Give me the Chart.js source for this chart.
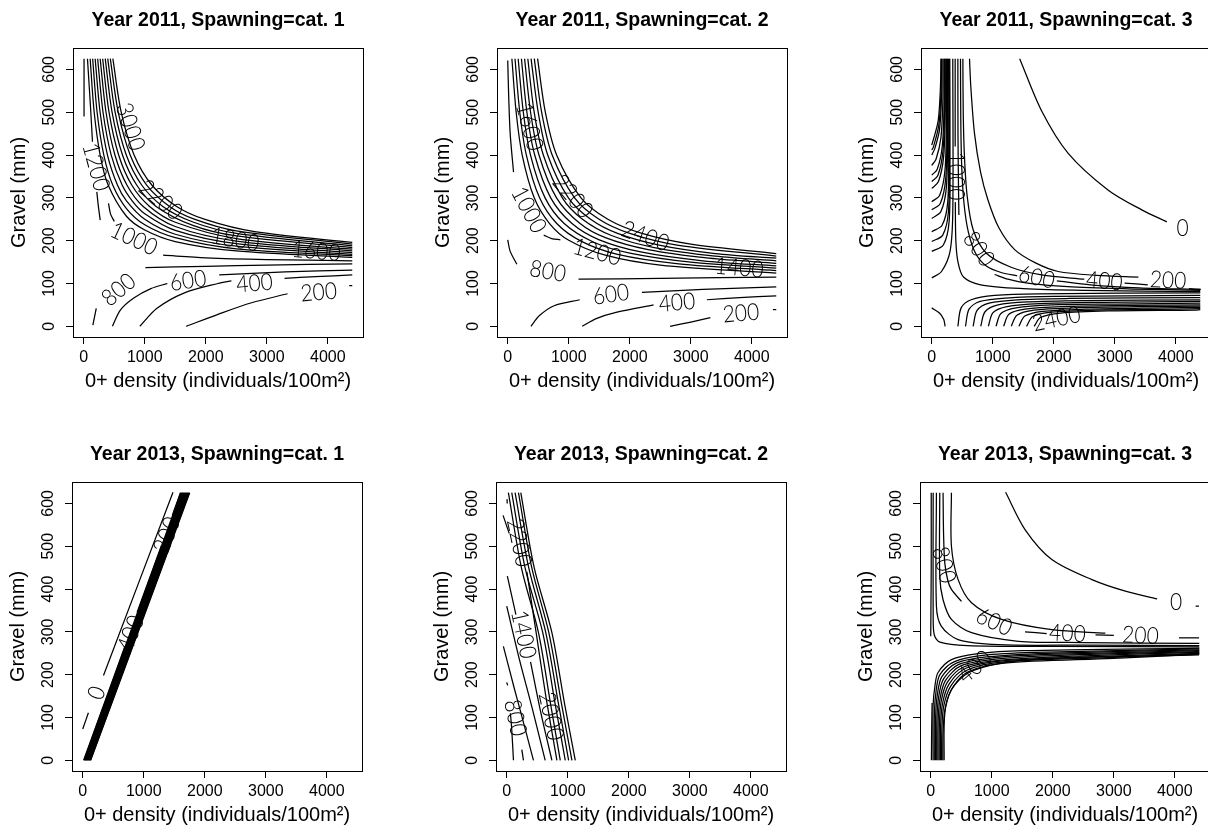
<!DOCTYPE html>
<html>
<head>
<meta charset="utf-8">
<title>Contour plots</title>
<script src="https://cdn.jsdelivr.net/npm/chart.js@4.4.1/dist/chart.umd.min.js"></script>
<style>
  html, body { margin: 0; padding: 0; background: #fff; }
  body { position: relative; width: 1208px; height: 827px; overflow: hidden; }
  canvas { position: absolute; }
</style>
</head>
<body>
<canvas id="p1" width="400" height="400" style="left:1px;top:0px"></canvas>
<canvas id="p2" width="400" height="400" style="left:425px;top:0px"></canvas>
<canvas id="p3" width="400" height="400" style="left:849px;top:0px"></canvas>
<canvas id="p4" width="400" height="400" style="left:0px;top:434px"></canvas>
<canvas id="p5" width="400" height="400" style="left:424px;top:434px"></canvas>
<canvas id="p6" width="400" height="400" style="left:848px;top:434px"></canvas>
<script>
const SANS = '"Liberation Sans", Arial, Helvetica, sans-serif';
const LABEL_FONT = '300 21px Lato, "DejaVu Sans", sans-serif';

// axes
const xTicks = [0, 1000, 2000, 3000, 4000];
const yTicks = [0, 100, 200, 300, 400, 500, 600];
const xRange = [-176, 4576];
const yRange = [-25, 650];

const titles = [
    'Year 2011, Spawning=cat. 1', 'Year 2011, Spawning=cat. 2', 'Year 2011, Spawning=cat. 3',
    'Year 2013, Spawning=cat. 1', 'Year 2013, Spawning=cat. 2', 'Year 2013, Spawning=cat. 3'
];

// ---- Year 2011, cat. 1 : contour pieces [x, y] ----
const lines2011c1 = [
    [[1680, 0], [2200, 28], [2750, 55], [3340, 76]],
    [[4350, 95], [4400, 95]],
    [[920, 0], [1200, 42], [1650, 78], [2200, 100], [2420, 106]],
    [[3290, 112], [3800, 116], [4400, 120]],
    [[470, 0], [600, 38], [820, 66], [1100, 88], [1370, 100]],
    [[2220, 120], [3300, 127], [4400, 131]],
    [[150, 3], [205, 42]],
    [[1010, 137], [2000, 140], [3000, 143], [4400, 146]],
    [[5, 625], [5, 490]],
    [[61, 625], [90, 560], [116, 500], [143, 431]],
    [[214, 314], [240, 280], [270, 248]],
    [[406, 287], [440, 262], [500, 245]],
    [[1300, 166], [2000, 160], [3000, 156], [4400, 153]],
    [[105, 625], [171, 500], [269, 400], [400, 330], [700, 257], [1000, 225], [1500, 198], [2500, 176], [4400, 161]],
    [[146, 625], [219, 500], [329, 400], [475, 330], [700, 275], [1000, 237], [1500, 207], [2500, 181], [4400, 165]],
    [[187, 625], [268, 500], [389, 400], [552, 330], [700, 293], [1000, 250], [1500, 215], [2500, 187], [4400, 168]],
    [[228, 625], [316, 500], [450, 400], [629, 330], [800, 292], [1000, 263], [1500, 224], [2500, 193], [4400, 172]],
    [[269, 625], [365, 500], [511, 400], [707, 330], [974, 280], [1500, 233], [2500, 199], [4400, 176]],
    [[310, 625], [414, 500], [572, 400], [786, 330], [1079, 280], [1500, 243], [2500, 205], [4400, 180]],
    [[352, 625], [464, 500], [635, 400], [867, 330], [1186, 280], [1800, 235], [2500, 211], [4400, 184]],
    [[393, 625], [514, 500], [697, 400], [949, 330], [1296, 280], [1800, 243], [2500, 217], [4400, 188]],
    [[435, 625], [565, 500], [761, 400], [1031, 330], [1407, 280], [1800, 251], [2500, 223], [4400, 192]],
    [[477, 625], [614, 500], [825, 400], [1115, 330], [1522, 280], [2000, 249], [2800, 221], [4400, 196]]
];
const labels2011c1 = [
    ['3000', 760, 466, 72], ['1200', 200, 372, 75], ['1000', 822, 204, 25], ['2200', 1260, 295, 40],
    ['1800', 2480, 202, 10], ['1600', 3810, 175, 5], ['800', 575, 85, -40], ['600', 1710, 106, -8],
    ['400', 2800, 100, -5], ['200', 3850, 79, -5]
];

// ---- Year 2011, cat. 2 ----
const lines2011c2 = [
    [[2660, 0], [3000, 10], [3320, 20]],
    [[4345, 39], [4400, 39]],
    [[1220, 0], [1450, 18], [1790, 33], [2390, 50]],
    [[3264, 62], [3800, 67], [4400, 71]],
    [[380, 0], [520, 25], [760, 48], [1180, 62]],
    [[2200, 79], [3200, 86], [4400, 92]],
    [[0, 202], [40, 175], [150, 145]],
    [[1160, 110], [2500, 112], [4400, 115]],
    [[0, 621], [15, 540], [40, 450], [95, 360]],
    [[590, 213], [720, 205], [862, 202]],
    [[68, 625], [138, 500], [237, 400], [434, 300], [685, 240], [1000, 201], [1600, 166], [2500, 143], [4400, 124]],
    [[119, 625], [197, 500], [305, 400], [522, 300], [803, 240], [1200, 199], [1800, 168], [2800, 146], [4400, 130]],
    [[171, 625], [255, 500], [373, 400], [612, 300], [925, 240], [1400, 197], [2000, 171], [3000, 150], [4400, 136]],
    [[224, 625], [314, 500], [442, 400], [704, 300], [1053, 240], [1500, 202], [2200, 173], [3200, 153], [4400, 141]],
    [[276, 625], [374, 500], [512, 400], [799, 300], [1185, 240], [1600, 207], [2300, 179], [3300, 159], [4400, 147]],
    [[329, 625], [433, 500], [583, 400], [895, 300], [1225, 250], [1700, 212], [2400, 184], [3400, 164], [4400, 153]],
    [[382, 625], [499, 500], [655, 400], [994, 300], [1358, 250], [1800, 217], [2500, 189], [3400, 170], [4400, 159]],
    [[435, 625], [555, 500], [728, 400], [1096, 300], [1496, 250], [2000, 217], [2800, 189], [4400, 164]],
    [[489, 625], [616, 500], [801, 400], [1200, 300], [1640, 250], [2200, 217], [3000, 192], [4400, 170]]
];
const labels2011c2 = [
    ['1600', 355, 466, 75], ['1000', 344, 272, 62], ['2200', 1064, 303, 50], ['2400', 2254, 210, 20],
    ['1200', 1463, 173, 15], ['1400', 3794, 136, 5], ['800', 655, 128, 10], ['600', 1692, 74, -8],
    ['400', 2773, 55, -5], ['200', 3821, 30, -5]
];

// ---- Year 2011, cat. 3 ----
const lines2011c3 = [
    [[1441, 625], [1797, 504], [2236, 404], [2893, 318], [3441, 272], [3852, 244]],
    [[619, 625], [640, 560], [701, 450], [800, 360], [921, 295], [1100, 230], [1359, 179], [1700, 148], [2071, 128], [2700, 119], [3386, 115]],
    [[4215, 88], [4408, 86]],
    [[510, 625], [516, 500], [535, 400], [580, 305], [680, 225], [900, 170], [1300, 138], [1800, 120], [2500, 110]],
    [[3160, 101], [3540, 97]],
    [[471, 625], [476, 480], [492, 370], [530, 285], [600, 220], [720, 170], [900, 140], [1150, 125], [1400, 118]],
    [[2050, 106], [2600, 97], [3400, 90], [4400, 86]],
    [[428, 625], [430, 450], [438, 330], [445, 260]],
    [[1030, 121], [1250, 110], [1600, 100], [2300, 92], [3300, 87], [4400, 84]],
    [[384, 625], [384, 420]],
    [[386, 290], [395, 200], [430, 150], [520, 115], [800, 97], [1500, 88], [2500, 84], [4400, 81]],
    [[150, 625], [143, 560], [105, 480], [0, 423]],
    [[159, 625], [153, 552], [116, 470], [25, 418], [0, 412]],
    [[168, 625], [163, 545], [128, 460], [50, 415], [0, 400]],
    [[186, 625], [183, 530], [150, 440], [70, 390], [0, 376]],
    [[204, 625], [202, 515], [172, 420], [90, 367], [0, 353]],
    [[213, 625], [212, 508], [183, 408], [100, 352], [0, 338]],
    [[222, 625], [221, 500], [194, 395], [110, 338], [0, 322]],
    [[240, 625], [240, 480], [217, 365], [130, 306], [0, 291]],
    [[249, 625], [250, 468], [229, 345], [140, 287], [0, 272]],
    [[258, 625], [259, 455], [240, 325], [150, 268], [0, 252]],
    [[276, 625], [278, 430], [262, 290], [170, 236], [0, 221]],
    [[286, 625], [289, 410], [274, 268], [180, 213], [0, 198]],
    [[296, 625], [299, 390], [285, 245], [190, 190], [0, 175]],
    [[345, 625], [345, 268], [300, 175], [160, 128], [0, 113]],
    [[0, 43], [126, 31], [197, 16], [219, 0]],
    [[428, 0], [482, 43], [646, 62], [1031, 72], [1743, 76], [4400, 78]],
    [[553, 0], [612, 40], [793, 58], [1216, 66], [2000, 70], [4400, 72]],
    [[678, 0], [743, 37], [940, 54], [1402, 62], [2256, 65], [4400, 67]],
    [[803, 0], [873, 34], [1086, 50], [1587, 57], [2513, 60], [4400, 62]],
    [[928, 0], [1004, 32], [1233, 46], [1772, 53], [2769, 56], [4400, 58]],
    [[1053, 0], [1134, 30], [1380, 43], [1958, 50], [3026, 52], [4400, 54]],
    [[1178, 0], [1264, 28], [1527, 40], [2143, 46], [3282, 49], [4400, 50]],
    [[1303, 0], [1395, 26], [1674, 38], [2328, 43], [3539, 46], [4400, 47]],
    [[1428, 0], [1525, 24], [1820, 35], [2513, 40], [3795, 43], [4400, 44]],
    [[1553, 0], [1656, 23], [1967, 33], [2699, 38], [4052, 40], [4400, 41]],
    [[1678, 0], [1786, 21], [2114, 31], [2884, 36], [4308, 38], [4400, 39]]
];
const labels2011c3 = [
    ['1000', 386, 351, 90], ['800', 770, 180, 55], ['600', 1719, 114, 12], ['400', 2830, 105, 5],
    ['200', 3873, 107, 3], ['0', 4110, 228, 0], ['2400', 2044, 17, -12]
];

// ---- Year 2013, cat. 1 ----
const lines2013c1 = [
    [[0, 73], [93, 111]],
    [[340, 198], [1479, 626]],
    [[15, 0], [690, 266]], [[890, 345], [1290, 502]], [[1470, 573], [1600, 625]],
    [[22, 0], [1608, 625]], [[28, 0], [1617, 625]], [[35, 0], [1626, 625]], [[41, 0], [1634, 625]],
    [[48, 0], [1643, 625]], [[54, 0], [1651, 625]], [[61, 0], [1660, 625]], [[67, 0], [1668, 625]],
    [[74, 0], [1677, 625]], [[80, 0], [1685, 625]], [[87, 0], [1694, 625]], [[93, 0], [1702, 625]],
    [[100, 0], [1711, 625]], [[106, 0], [1719, 625]], [[113, 0], [1728, 625]], [[119, 0], [1736, 625]],
    [[125, 0], [1745, 625]], [[130, 0], [1753, 625]]
];
const labels2013c1 = [
    ['0', 230, 157, -69], ['400', 789, 296, -69], ['200', 1381, 526, -69]
];

// ---- Year 2013, cat. 2 ----
const lines2013c2 = [
    [[230, 625], [450, 450], [740, 298], [950, 130], [1123, 0]],
    [[192, 625], [410, 450], [690, 298], [900, 130], [1068, 0]],
    [[137, 625], [360, 450], [640, 298], [850, 130], [1014, 0]],
    [[82, 625], [300, 450], [590, 298], [795, 130], [959, 0]],
    [[27, 625], [240, 450], [520, 298], [720, 130], [877, 0]],
    [[-60, 572], [40, 530]],
    [[330, 440], [480, 300], [640, 150], [822, 0]],
    [[10, 430], [150, 340]],
    [[390, 230], [560, 110], [740, 0]],
    [[0, 360], [200, 240], [420, 120], [630, 0]],
    [[-55, 266], [120, 170], [280, 85], [438, 0]],
    [[0, 182], [15, 175]],
    [[247, 25], [274, 0]],
    [[60, 110], [82, 72], [110, 0]],
    [[5, 610], [8, 600]]
];
const labels2013c2 = [
    ['2200', 203, 508, 78], ['1400', 274, 294, 78], ['2000', 723, 103, 78], ['800', 137, 99, 78]
];

// ---- Year 2013, cat. 3 ----
const lines2013c3 = [
    [[1227, 626], [1545, 539], [1984, 469], [2641, 422], [3189, 395], [3710, 377]],
    [[4340, 360], [4395, 360]],
    [[339, 625], [339, 500], [449, 422], [668, 368], [1161, 329], [1984, 305], [2861, 297]],
    [[4068, 286], [4397, 286]],
    [[202, 625], [210, 530], [230, 461], [280, 420], [339, 399], [504, 371]],
    [[1545, 300], [1900, 296]],
    [[2700, 293], [3000, 292]],
    [[148, 625], [148, 430], [202, 375], [339, 329], [668, 298], [1436, 278], [2500, 275], [4400, 273]],
    [[93, 625], [93, 360], [175, 313], [449, 282], [1106, 270], [2500, 269], [4400, 268]],
    [[40, 625], [40, 330], [60, 292], [150, 276], [600, 268], [2000, 266], [4400, 265]],
    [[8, 625], [8, 450], [3, 350], [0, 290]],
    [[11, 0], [15, 70], [22, 134]],
    [[38, 0], [38, 126], [70, 175], [120, 205], [339, 235], [777, 249], [1500, 256], [4400, 262]],
    [[58, 0], [60, 110], [90, 165], [150, 200], [380, 230], [850, 245], [1700, 252], [4400, 260]],
    [[78, 0], [80, 100], [110, 155], [180, 195], [420, 227], [950, 242], [1900, 250], [4400, 258]],
    [[98, 0], [101, 95], [130, 148], [210, 190], [460, 224], [1050, 240], [2100, 248], [4400, 256]],
    [[118, 0], [121, 90], [150, 142], [240, 186], [500, 221], [1100, 237], [2300, 246], [4400, 254]],
    [[138, 0], [142, 85], [170, 137], [270, 182], [540, 218], [1150, 234], [2500, 244], [4400, 252]],
    [[158, 0], [162, 80], [192, 132], [300, 178], [575, 215], [1180, 232], [2700, 242], [4400, 250]],
    [[178, 0], [183, 75], [215, 128], [330, 174], [600, 211], [1200, 230], [2900, 240], [4400, 249]],
    [[198, 0], [203, 70], [240, 124], [360, 170], [620, 207], [1200, 227], [3000, 238], [4400, 248]],
    [[219, 0], [230, 109], [339, 165], [613, 204], [1161, 227], [1984, 238], [4396, 246]]
];
const labels2013c3 = [
    ['0', 4022, 369, 0], ['200', 3437, 291, 3], ['400', 2241, 296, 3], ['600', 1038, 323, 25],
    ['800', 214, 456, 75], ['400', 723, 218, -40]
];

const PANELS = [
    { id: 'p1', title: titles[0], lines: lines2011c1, labels: labels2011c1 },
    { id: 'p2', title: titles[1], lines: lines2011c2, labels: labels2011c2 },
    { id: 'p3', title: titles[2], lines: lines2011c3, labels: labels2011c3 },
    { id: 'p4', title: titles[3], lines: lines2013c1, labels: labels2013c1 },
    { id: 'p5', title: titles[4], lines: lines2013c2, labels: labels2013c2 },
    { id: 'p6', title: titles[5], lines: lines2013c3, labels: labels2013c3 }
];

Chart.defaults.font.family = SANS;
Chart.defaults.color = '#000';

// box round the plot region
const boxPlugin = {
    id: 'box',
    afterDraw(chart) {
        const { ctx, chartArea: a } = chart;
        ctx.save();
        ctx.strokeStyle = '#000';
        ctx.lineWidth = 1;
        ctx.strokeRect(Math.round(a.left) + 0.5, Math.round(a.top) + 0.5,
            Math.round(a.right - a.left), Math.round(a.bottom - a.top));
        ctx.restore();
    }
};

// contour labels placed in data coordinates
function labelPlugin(items) {
    return {
        id: 'contourLabels',
        afterDatasetsDraw(chart) {
            const { ctx, chartArea: a, scales: { x, y } } = chart;
            ctx.save();
            ctx.beginPath();
            ctx.rect(a.left, a.top, a.right - a.left, a.bottom - a.top);
            ctx.clip();
            ctx.fillStyle = '#000';
            ctx.font = LABEL_FONT;
            ctx.textAlign = 'center';
            ctx.textBaseline = 'middle';
            items.forEach(([text, vx, vy, angle]) => {
                ctx.save();
                ctx.translate(x.getPixelForValue(vx), y.getPixelForValue(vy));
                ctx.rotate(angle * Math.PI / 180);
                ctx.scale(1, 1.12);
                ctx.fillText(text, 0, 0);
                ctx.restore();
            });
            ctx.restore();
        }
    };
}

function toDatasets(lines) {
    return lines.map(seg => ({
        data: seg.map(([x, y]) => ({ x, y })),
        showLine: true,
        borderColor: '#000',
        borderWidth: 1.25,
        pointRadius: 0,
        pointHoverRadius: 0,
        tension: 0.3,
        fill: false
    }));
}

function makeChart(p) {
    const el = document.getElementById(p.id);
    return new Chart(el, {
        type: 'scatter',
        data: { datasets: toDatasets(p.lines) },
        options: {
            responsive: false,
            animation: false,
            devicePixelRatio: 1,
            events: [],
            layout: { padding: { left: 0, right: 38, top: 0, bottom: 0 } },
            plugins: {
                legend: { display: false },
                tooltip: { enabled: false },
                title: {
                    display: true, text: p.title, fullSize: false, color: '#000',
                    font: { family: SANS, size: 19.5, weight: 'bold', lineHeight: 1.2 },
                    padding: { top: 8.5, bottom: 16.1 }
                }
            },
            scales: {
                x: {
                    type: 'linear', min: xRange[0], max: xRange[1],
                    afterBuildTicks: s => { s.ticks = xTicks.map(v => ({ value: v })); },
                    afterFit: s => { s.height = 63; },
                    ticks: { autoSkip: false, maxRotation: 0, minRotation: 0, padding: 4, color: '#000',
                        font: { family: SANS, size: 16 }, callback: v => String(v) },
                    grid: { drawOnChartArea: false, drawTicks: true, tickLength: 7, color: '#000', lineWidth: 1 },
                    border: { display: false },
                    title: { display: true, text: '0+ density (individuals/100m\u00B2)', color: '#000',
                        font: { family: SANS, size: 20, lineHeight: 1.2 }, padding: { top: 0, bottom: 6.5 } }
                },
                y: {
                    type: 'linear', min: yRange[0], max: yRange[1],
                    afterBuildTicks: s => { s.ticks = yTicks.map(v => ({ value: v })); },
                    afterFit: s => { s.width = 72; },
                    ticks: { autoSkip: false, minRotation: 90, maxRotation: 90, crossAlign: 'center', padding: 3,
                        color: '#000', font: { family: SANS, size: 16 }, callback: v => String(v) },
                    grid: { drawOnChartArea: false, drawTicks: true, tickLength: 7, color: '#000', lineWidth: 1 },
                    border: { display: false },
                    title: { display: true, text: 'Gravel (mm)', color: '#000',
                        font: { family: SANS, size: 20, lineHeight: 1.2 }, padding: { top: 6, bottom: 0 } }
                }
            }
        },
        plugins: [boxPlugin, labelPlugin(p.labels)]
    });
}

PANELS.forEach(makeChart);
</script>
</body>
</html>
